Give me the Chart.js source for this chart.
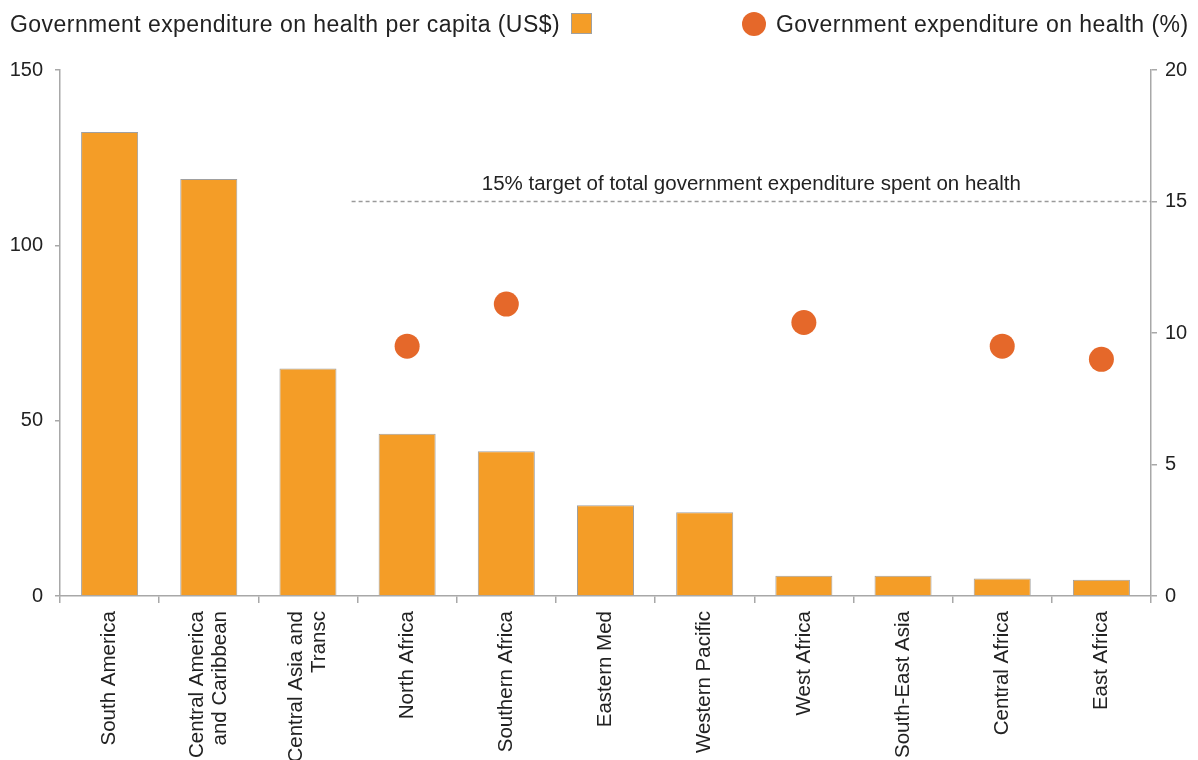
<!DOCTYPE html>
<html>
<head>
<meta charset="utf-8">
<script src="https://cdn.jsdelivr.net/npm/chart.js@4"></script>
<style>
  html, body { margin: 0; padding: 0; background: #fff; }
  #wrap { position: relative; width: 1198px; height: 760px; font-family: "Liberation Sans", Arial, sans-serif; color: #222; }
  #chart { position: absolute; left: 0; top: 0; }
  .key { position: absolute; top: 9px; font-size: 23px; letter-spacing: 0.45px; line-height: 30px; white-space: nowrap; }
  .swatch { display: inline-block; vertical-align: middle; }
</style>
</head>
<body>
<div id="wrap">
  <canvas id="chart" width="1198" height="760"></canvas>
  <div class="key" style="left:10px">Government expenditure on health per capita (US$)<span class="swatch" style="width:21px;height:21px;margin-left:11px;margin-top:-4px;background:#f49d27;border:1px solid #a0a0a0;box-sizing:border-box"></span></div>
  <div class="key" style="left:742px"><span class="swatch" style="width:24px;height:24px;border-radius:50%;background:#e5682a;margin-right:10px;margin-top:-4px"></span>Government expenditure on health (%)</div>
</div>
<script>
// regions, per-capita spend (bars, left axis) and share of budget (dots, right axis)
const regions = [
    'South America',
    ['Central America', 'and Caribbean'],
    ['Central Asia and', 'Transc'],
    'North Africa',
    'Southern Africa',
    'Eastern Med',
    'Western Pacific',
    'West Africa',
    'South-East Asia',
    'Central Africa',
    'East Africa'
];
const perCapitaUSD = [132.3, 118.9, 64.9, 46.3, 41.3, 25.9, 23.9, 5.8, 5.8, 5.0, 4.6];
const healthSharePct = [null, null, null, 9.5, 11.1, null, null, 10.4, null, 9.5, 9.0];

const leftTicks = [0, 50, 100, 150];
const rightTicks = [0, 5, 10, 15, 20];

const targetPct = 15;
const targetLabel = '15% target of total government expenditure spent on health';
const targetStart = 2.44; // category position where the dashed line begins

const axisGray = '#a8a8a8';
const textColor = '#222';
const fontFamily = '"Liberation Sans", Arial, sans-serif';

// dashed 15% target line with its caption
const targetLine = {
    id: 'targetLine',
    beforeDatasetsDraw(chart) {
        const { ctx, chartArea, scales } = chart;
        const y = scales.y2.getPixelForValue(targetPct);
        const x0 = scales.x.getPixelForValue(targetStart);
        const x1 = chartArea.right;
        ctx.save();
        ctx.strokeStyle = '#9a9a9a';
        ctx.lineWidth = 1.5;
        ctx.setLineDash([4, 3]);
        ctx.beginPath();
        ctx.moveTo(x0, y);
        ctx.lineTo(x1, y);
        ctx.stroke();
        ctx.setLineDash([]);
        ctx.fillStyle = textColor;
        ctx.font = '20.5px ' + fontFamily;
        ctx.textAlign = 'center';
        ctx.textBaseline = 'bottom';
        ctx.fillText(targetLabel, (x0 + x1) / 2, y - 7);
        ctx.restore();
    }
};

// chart.js puts the first line of a rotated multi-line label on the tick;
// shift those labels so the whole block sits centred under the bar
const centreRotatedLabels = {
    id: 'centreRotatedLabels',
    beforeDraw(chart) {
        const scale = chart.scales.x;
        scale.getLabelItems(chart.chartArea).forEach(item => {
            if (Array.isArray(item.label) && !item._centred) {
                item.options.translation[0] -= (item.label.length - 1) * item.font.lineHeight / 2;
                item._centred = true;
            }
        });
    }
};

const ctx = document.getElementById('chart').getContext('2d');
new Chart(ctx, {
    type: 'bar',
    data: {
        labels: regions,
        datasets: [
            {
                type: 'line',
                label: 'Government expenditure on health (%)',
                data: healthSharePct,
                yAxisID: 'y2',
                showLine: false,
                pointRadius: 12.5,
                pointHoverRadius: 12.5,
                pointBackgroundColor: '#e5682a',
                pointBorderWidth: 0,
                order: 0
            },
            {
                label: 'Government expenditure on health per capita (US$)',
                data: perCapitaUSD,
                yAxisID: 'y',
                backgroundColor: '#f49d27',
                borderColor: '#a0a0a0',
                borderWidth: 1,
                barPercentage: 0.575,
                categoryPercentage: 1,
                order: 1
            }
        ]
    },
    options: {
        responsive: false,
        animation: false,
        layout: { padding: { top: 70, left: 0, right: 0, bottom: 0 } },
        plugins: {
            legend: { display: false },
            tooltip: { enabled: false }
        },
        scales: {
            x: {
                offset: true,
                grid: { offset: true, drawOnChartArea: false, tickLength: 7, color: axisGray, lineWidth: 1.5 },
                border: { color: axisGray, width: 1.5 },
                ticks: {
                    minRotation: 90,
                    maxRotation: 90,
                    autoSkip: false,
                    padding: 8,
                    color: textColor,
                    font: { size: 20.5, family: fontFamily, lineHeight: 1.15 }
                },
                afterFit(scale) { scale.height = 164; }
            },
            y: {
                position: 'left',
                min: 0,
                max: 150,
                afterBuildTicks(scale) { scale.ticks = leftTicks.map(v => ({ value: v })); },
                grid: { drawOnChartArea: false, tickLength: 5, color: axisGray, lineWidth: 1.5 },
                border: { color: axisGray, width: 1.5 },
                ticks: {
                    padding: 12,
                    color: textColor,
                    font: { size: 20, family: fontFamily }
                },
                afterFit(scale) { scale.width = 60; }
            },
            y2: {
                position: 'right',
                min: 0,
                max: 20,
                afterBuildTicks(scale) { scale.ticks = rightTicks.map(v => ({ value: v })); },
                grid: { drawOnChartArea: false, tickLength: 6, color: axisGray, lineWidth: 1.5 },
                border: { color: axisGray, width: 1.5 },
                ticks: {
                    padding: 8,
                    color: textColor,
                    font: { size: 20, family: fontFamily }
                },
                afterFit(scale) { scale.width = 47; }
            }
        }
    },
    plugins: [targetLine, centreRotatedLabels]
});
</script>
</body>
</html>
